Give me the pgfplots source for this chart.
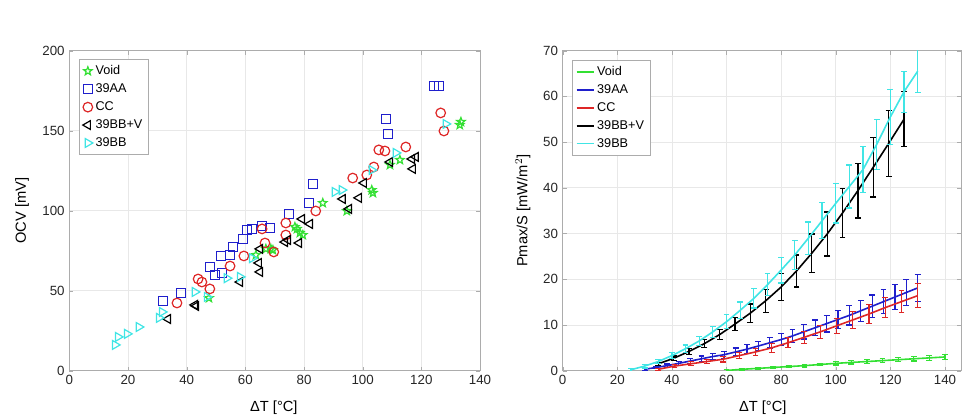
\documentclass[border=0pt]{standalone}
\usepackage{fontspec}
\setmainfont{Liberation Sans}
\usepackage{pgfplots}
\pgfplotsset{compat=1.18}
\definecolor{cvoid}{rgb}{0.2,0.88,0.2}
\definecolor{caa}{rgb}{0.12,0.12,0.8}
\definecolor{ccc}{rgb}{0.87,0.15,0.15}
\definecolor{cbbv}{rgb}{0,0,0}
\definecolor{cbb}{rgb}{0.25,0.9,0.9}
\pgfdeclareplotmark{pentagram}{%
 \pgfpathmoveto{\pgfpointpolar{90}{\pgfplotmarksize}}%
 \pgfpathlineto{\pgfpointpolar{126}{0.42\pgfplotmarksize}}%
 \pgfpathlineto{\pgfpointpolar{162}{\pgfplotmarksize}}%
 \pgfpathlineto{\pgfpointpolar{198}{0.42\pgfplotmarksize}}%
 \pgfpathlineto{\pgfpointpolar{234}{\pgfplotmarksize}}%
 \pgfpathlineto{\pgfpointpolar{270}{0.42\pgfplotmarksize}}%
 \pgfpathlineto{\pgfpointpolar{306}{\pgfplotmarksize}}%
 \pgfpathlineto{\pgfpointpolar{342}{0.42\pgfplotmarksize}}%
 \pgfpathlineto{\pgfpointpolar{18}{\pgfplotmarksize}}%
 \pgfpathlineto{\pgfpointpolar{54}{0.42\pgfplotmarksize}}%
 \pgfpathclose
 \pgfusepathqstroke
}
\pgfplotsset{mystyle/.style={scale only axis, grid=major,
  major grid style={gray!18, line width=0.5pt},
  axis line style={gray!65, line width=0.6pt}, tick style={gray!65},
  tick align=inside, major tick length=3pt,
  ticklabel style={font=\fontsize{10}{12}\selectfont, text=black!85},
  /pgf/number format/assume math mode=true,
  label style={font=\fontsize{11}{13}\selectfont},
  legend cell align=left,
  legend style={font=\fontsize{9.5}{11}\selectfont, draw=gray!65, anchor=north west,
    row sep=1.3pt, inner sep=2.5pt}}}
\begin{document}
\begin{tikzpicture}
\useasboundingbox (-52pt,-35.5pt) rectangle (669.5pt,278pt);
\begin{axis}[mystyle, at={(0,0)}, anchor=south west, width=308pt, height=240pt,
  xmin=0, xmax=140, ymin=0, ymax=200, xtick={0,20,...,140}, ytick={0,50,...,200},
  xlabel={ΔT [°C]}, ylabel={OCV [mV]},
  xlabel style={at={(axis description cs:0.498,-0.117)}, anchor=center},
  ylabel style={at={(axis description cs:-0.115,0.5)}, anchor=center},
  legend style={at={(axis description cs:0.024,0.973)}}]
\addplot[only marks, mark=pentagram, mark size=3.3pt, draw=cvoid, line width=0.9pt] coordinates {
(47.6,45.4) (63.6,72.3) (67.0,76.1) (68.7,76.1) (69.4,75.4) (76.9,89.8) (77.6,88.6)
(78.6,86.1) (79.6,84.8) (86.4,104.8) (94.6,99.8) (103.1,112.9) (103.5,111.1)
(109.3,128.6) (112.7,131.7) (133.1,153.6) (133.5,155.5)};
\addlegendentry{Void}
\addplot[only marks, mark=square, mark size=3.4pt, draw=caa, line width=0.9pt] coordinates {
(31.9,43.6) (38.1,48.6) (47.9,64.8) (49.6,59.8) (52.0,61.1) (51.7,71.7) (54.8,72.3)
(55.8,77.3) (59.2,82.3) (60.5,88.0) (62.2,88.6) (65.7,90.4) (68.4,89.2) (74.9,98.0)
(81.7,104.8) (83.0,116.7) (107.9,157.3) (108.6,148.0) (124.3,178.0) (125.9,178.0)};
\addlegendentry{39AA}
\addplot[only marks, mark=o, mark size=3.6pt, draw=ccc, line width=0.9pt] coordinates {
(36.7,42.3) (43.9,57.3) (45.2,55.4) (47.9,51.1) (54.8,65.4) (59.5,71.7) (65.7,88.6)
(66.7,79.8) (69.7,74.2) (73.8,84.8) (73.8,92.3) (84.0,99.8) (96.6,120.4) (101.4,122.3)
(103.8,127.3) (105.5,138.0) (107.6,137.3) (114.7,139.8) (126.6,161.1) (127.7,149.8)};
\addlegendentry{CC}
\addplot[only marks, mark=triangle, mark size=3.8pt, mark options={rotate=90}, draw=cbbv, line width=0.9pt] coordinates {
(33.6,32.3) (42.8,41.1) (43.2,40.4) (58.2,55.4) (64.6,67.3) (65.0,61.7) (65.0,76.1)
(73.5,80.4) (74.5,81.7) (78.3,79.8) (79.3,94.8) (82.0,91.7) (93.2,107.3) (95.3,101.1)
(98.7,108.0) (100.4,117.3) (109.3,130.4) (116.8,132.3) (118.1,133.6) (117.1,126.1)};
\addlegendentry{39BB+V}
\addplot[only marks, mark=triangle, mark size=3.8pt, mark options={rotate=-90}, draw=cbb, line width=0.9pt] coordinates {
(15.6,16.1) (16.6,21.1) (19.7,23.0) (23.7,27.3) (30.6,33.0) (31.6,36.7) (42.8,49.2)
(46.9,46.1) (53.7,57.8) (58.2,58.6) (62.3,70.3) (90.5,111.7) (92.9,112.9)
(103.1,125.4) (111.3,136.1) (128.3,154.2)};
\addlegendentry{39BB}
\node[font=\fontsize{12}{14}\selectfont] at (rel axis cs:0.055,1.096) {(a)};
\end{axis}
\begin{axis}[mystyle, at={(370pt,0)}, anchor=south west, width=299pt, height=240pt,
  xmin=0, xmax=146, ymin=0, ymax=70, xtick={0,20,...,140}, ytick={0,10,...,70},
  xlabel={ΔT [°C]}, ylabel={Pmax/S [mW/m$^2$]},
  xlabel style={at={(axis description cs:0.502,-0.117)}, anchor=center},
  ylabel style={at={(axis description cs:-0.1,0.5)}, anchor=center},
  legend style={at={(axis description cs:0.024,0.971)}},
  legend image code/.code={\draw[#1] (0cm,0cm) -- (0.45cm,0cm);},
  every axis plot/.append style={line width=1.2pt, mark=none,
    error bars/y dir=both, error bars/y explicit,
    error bars/error bar style={line width=0.9pt},
    error bars/error mark=-,
    error bars/error mark options={rotate=90, mark size=2.2pt, line width=0.9pt}}]
\addplot[cvoid] table[x=x, y=y, y error=e] {
x y e
60 0.05 0.15
65.71 0.3 0.2
71.43 0.5 0.2
77.14 0.7 0.25
82.86 0.9 0.25
88.57 1.1 0.3
94.29 1.35 0.3
100 1.6 0.35
105.71 1.8 0.35
111.43 2.0 0.4
117.14 2.2 0.4
122.86 2.4 0.45
128.57 2.6 0.5
134.29 2.8 0.5
140 3.0 0.6
};
\addlegendentry{Void}
\addplot[caa] table[x=x, y=y, y error=e] {
x y e
30 0.3 0.2
34.17 0.7 0.25
38.33 1.1 0.35
42.5 1.6 0.45
46.67 2.1 0.55
50.83 2.6 0.6
55 3.1 0.7
59.17 3.5 0.75
63.33 4.1 0.85
67.5 4.7 0.95
71.67 5.4 1.05
75.83 6.1 1.15
80 6.8 1.25
84.17 7.6 1.4
88.33 8.5 1.55
92.5 9.4 1.7
96.67 10.3 1.85
100.83 11.2 2.0
105 12.1 2.1
109.17 13.1 2.3
113.33 14.1 2.45
117.5 15.1 2.6
121.67 16.1 2.75
125.83 17.1 2.9
130 18.1 3.0
};
\addlegendentry{39AA}
\addplot[ccc] table[x=x, y=y, y error=e] {
x y e
35 0.3 0.2
40.94 1.0 0.35
46.88 1.5 0.45
52.81 2.0 0.5
58.75 2.5 0.6
64.69 3.3 0.7
70.63 4.1 0.8
76.56 5.0 0.95
82.5 6.1 1.1
88.44 7.3 1.3
94.38 8.5 1.45
100.31 9.8 1.65
106.25 11.1 1.85
112.19 12.4 2.05
118.13 13.8 2.25
124.06 15.1 2.45
130 16.4 2.6
};
\addlegendentry{CC}
\addplot[cbbv] table[x=x, y=y, y error=e] {
x y e
35 1.5 0.3
40.63 2.7 0.5
46.25 4.2 0.7
51.88 5.9 0.9
57.5 7.9 1.1
63.13 10.2 1.5
68.75 12.6 2.0
74.38 15.3 2.5
80 18.3 3.0
85.63 21.8 3.5
91.25 25.7 4.2
96.88 29.9 4.8
102.5 34.5 5.3
108.13 39.4 6.0
113.75 44.5 6.5
119.38 49.7 7.2
125 55.0 6.0
};
\addlegendentry{39BB+V}
\addplot[cbb] table[x=x, y=y, y error=e] {
x y e
25 0.2 0.3
30 1.0 0.4
35 2.0 0.5
40 3.3 0.6
45 4.8 0.8
50 6.5 1.0
55 8.5 1.2
60 10.7 1.5
65 13.2 1.8
70 15.8 2.1
75 18.8 2.4
80 22.0 2.8
85 25.3 3.1
90 29.0 3.5
95 32.8 3.9
100 36.6 4.3
105 40.3 4.7
110 44.0 5.0
115 49.5 5.5
120 55.5 6.0
125 61.0 4.5
130 65.5 4.7
};
\addlegendentry{39BB}
\node[font=\fontsize{12}{14}\selectfont] at (rel axis cs:0.051,1.096) {(b)};
\end{axis}
\end{tikzpicture}
\end{document}
